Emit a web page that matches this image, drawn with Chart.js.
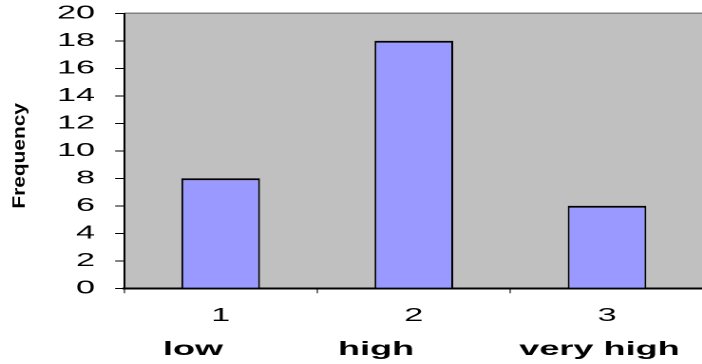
<!DOCTYPE html>
<html><head><meta charset="utf-8">
<script src="https://cdn.jsdelivr.net/npm/chart.js@4/dist/chart.umd.min.js"></script>
<style>
html,body{margin:0;padding:0;background:#fff;overflow:hidden;width:702px;height:364px;}
#wrap{position:absolute;left:0;top:0;transform:scaleX(1.9);transform-origin:0 0;}
canvas{display:block;}
</style></head><body>
<div id="wrap"><canvas id="c" width="372" height="364"></canvas></div>
<script>
const categories = ['1', '2', '3'];
const levelLabels = ['low', 'high', 'very high'];
const frequency = [8, 18, 6];
const axisTitle = 'Frequency';
const yMin = 0, yMax = 20, yStep = 2;

Chart.defaults.font.family = '"Liberation Sans", Arial, sans-serif';
Chart.defaults.color = '#000';

// trailing-space counts used only to nudge the centred word labels, as in the source sheet
const levelShift = [4, 6, 0];

const plotBg = {
  id: 'plotBg',
  beforeDraw(chart) {
    const {ctx, chartArea: a} = chart;
    ctx.save();
    ctx.fillStyle = '#C0C0C0';
    ctx.fillRect(a.left, a.top, a.right - a.left, a.bottom - a.top);
    ctx.strokeStyle = '#808080';
    ctx.lineWidth = 1.5;
    ctx.beginPath();
    ctx.moveTo(a.left, a.top);
    ctx.lineTo(a.right, a.top);
    ctx.stroke();
    ctx.restore();
  }
};

const yTitle = {
  id: 'yTitle',
  afterDraw(chart) {
    const {ctx, chartArea: a} = chart;
    const r = chart.currentDevicePixelRatio || 1;
    const cx = chart.scales.y.left + 13.2;
    const cy = (a.top + a.bottom) / 2 + 5;
    ctx.save();
    ctx.setTransform(0, -2.2 * r, r, 0, cx * r, cy * r);
    ctx.fillStyle = '#000';
    ctx.font = 'bold 9.5px "Liberation Sans", Arial, sans-serif';
    ctx.textAlign = 'center';
    ctx.textBaseline = 'alphabetic';
    ctx.fillText(axisTitle, 0, 0);
    ctx.restore();
  }
};

new Chart(document.getElementById('c'), {
  type: 'bar',
  data: {
    labels: categories,
    datasets: [{
      data: frequency,
      backgroundColor: '#9999FF',
      borderColor: '#000',
      borderWidth: {top: 2, left: 1, right: 1, bottom: 0},
      barPercentage: 0.407,
      categoryPercentage: 1,
      xAxisID: 'x',
      yAxisID: 'y'
    }]
  },
  options: {
    responsive: false,
    maintainAspectRatio: false,
    devicePixelRatio: 2,
    animation: false,
    layout: {padding: {top: 13.3, right: 0, bottom: 0, left: 0}},
    plugins: {legend: {display: false}, tooltip: {enabled: false}},
    scales: {
      y: {
        min: yMin, max: yMax,
        ticks: {stepSize: yStep, font: {size: 18}, color: '#000', padding: 10.6},
        grid: {drawOnChartArea: false, drawTicks: true, tickLength: 4.7, color: '#000', lineWidth: 1},
        border: {display: true, color: '#000', width: 1},
        afterFit(s) { s.width = 65.3; s.paddingTop = 0; s.paddingBottom = 0; }
      },
      x: {
        type: 'category',
        position: 'bottom',
        offset: true,
        ticks: {font: {size: 18}, color: '#000', padding: 12, maxRotation: 0, autoSkip: false},
        grid: {display: true, offset: true, drawOnChartArea: false, drawTicks: true, tickLength: 5, color: '#000', lineWidth: 0.55},
        border: {display: true, color: '#000', width: 2},
        afterFit(s) { s.height = 40; }
      },
      x2: {
        type: 'category',
        position: 'bottom',
        labels: levelLabels,
        offset: true,
        ticks: {
          font: {size: 19, weight: 'bold'}, color: '#000', padding: 10, labelOffset: -4,
          maxRotation: 0, autoSkip: false,
          callback: (v, i) => levelLabels[i] + ' '.repeat(levelShift[i])
        },
        grid: {display: false, drawTicks: false},
        border: {display: false},
        afterFit(s) { s.height = 35.7; }
      }
    }
  },
  plugins: [plotBg, yTitle]
});
</script>
</body></html>
